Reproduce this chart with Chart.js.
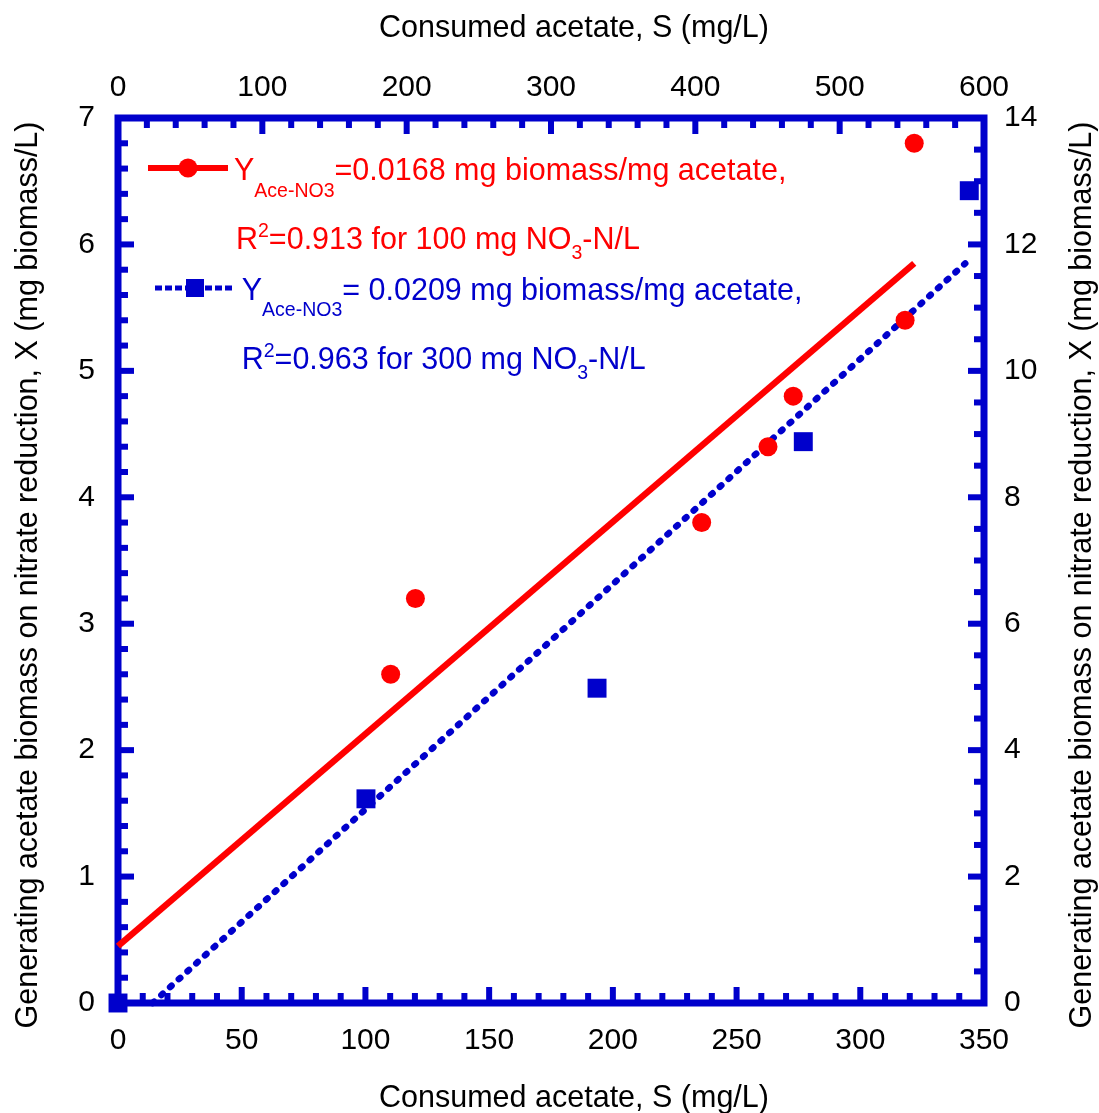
<!DOCTYPE html>
<html>
<head>
<meta charset="utf-8">
<script src="https://cdn.jsdelivr.net/npm/chart.js@4.4.0/dist/chart.umd.min.js"></script>
<style>
  html, body { margin: 0; padding: 0; background: #fff; }
  #wrap { width: 1099px; height: 1113px; }
</style>
</head>
<body>
<div id="wrap"><canvas id="myChart" width="1099" height="1113"></canvas></div>
<script>
// 100 mg NO3-N/L : bottom (acetate) / left (biomass) axes
const acetate100 = [110.2, 120.2, 235.9, 262.7, 272.9, 318.1, 321.8];
const biomass100 = [2.6, 3.2, 3.8, 4.4, 4.8, 5.4, 6.8];
// 300 mg NO3-N/L : top (acetate) / right (biomass) axes
const acetate300 = [0, 171.8, 331.9, 474.8, 589.8];
const biomass300 = [0, 3.23, 4.98, 8.88, 12.85];
// fitted lines, end points
const fit100X = [0, 321.8];
const fit100Y = [0.45, 5.85];
const fit300X = [24, 587];
const fit300Y = [0, 11.7];

// tick labels
const bottomTicks = [0, 50, 100, 150, 200, 250, 300, 350];
const topTicks = [0, 100, 200, 300, 400, 500, 600];
const leftTicks = [0, 1, 2, 3, 4, 5, 6, 7];
const rightTicks = [0, 2, 4, 6, 8, 10, 12, 14];

const RED = "#ff0000";
const BLUE = "#0000cc";
const FONT = "'Liberation Sans', Arial, sans-serif";

const pts = (xs, ys) => xs.map((x, i) => ({ x: x, y: ys[i] }));
const useTicks = (vals) => (scale) => { scale.ticks = vals.map(v => ({ value: v })); };

// frame + inward major/minor ticks
const framePlugin = {
  id: "frame",
  beforeDatasetsDraw(chart) {
    const { ctx, chartArea: a, scales } = chart;
    ctx.save();
    ctx.strokeStyle = BLUE;
    ctx.lineWidth = 7;
    ctx.strokeRect(a.left, a.top, a.right - a.left, a.bottom - a.top);
    ctx.fillStyle = BLUE;
    const tw = 6, maj = 16, min = 10;
    function marks(scale, minor, every, side) {
      const n = Math.round((scale.max - scale.min) / minor);
      for (let i = 0; i <= n; i++) {
        const p = scale.getPixelForValue(scale.min + i * minor);
        const len = i % every === 0 ? maj : min;
        if (side === "bottom") ctx.fillRect(p - tw / 2, a.bottom - len, tw, len);
        if (side === "top") ctx.fillRect(p - tw / 2, a.top, tw, len);
        if (side === "left") ctx.fillRect(a.left, p - tw / 2, len, tw);
        if (side === "right") ctx.fillRect(a.right - len, p - tw / 2, len, tw);
      }
    }
    marks(scales.x, 10, 5, "bottom");
    marks(scales.x2, 20, 5, "top");
    marks(scales.y, 0.2, 5, "left");
    marks(scales.y2, 0.5, 4, "right");
    ctx.restore();
  }
};

// draw a line of text made of runs (normal / sub / superscript)
function drawRuns(ctx, x, y, runs, color) {
  ctx.fillStyle = color;
  ctx.textAlign = "left";
  ctx.textBaseline = "alphabetic";
  runs.forEach(r => {
    ctx.font = r[1] + "px " + FONT;
    ctx.fillText(r[0], x, y + (r[2] || 0));
    x += ctx.measureText(r[0]).width;
  });
}

const textPlugin = {
  id: "texts",
  afterDraw(chart) {
    const ctx = chart.ctx;
    ctx.save();
    // axis titles
    ctx.fillStyle = "#000";
    ctx.font = "30.5px " + FONT;
    ctx.textAlign = "center";
    ctx.textBaseline = "alphabetic";
    ctx.fillText("Consumed acetate, S (mg/L)", 574, 37);
    ctx.fillText("Consumed acetate, S (mg/L)", 574, 1107);
    const yTitle = "Generating acetate biomass on nitrate reduction, X (mg biomass/L)";
    [[37, 575], [1091, 575]].forEach(p => {
      ctx.save();
      ctx.translate(p[0], p[1]);
      ctx.rotate(-Math.PI / 2);
      ctx.fillText(yTitle, 0, 0);
      ctx.restore();
    });

    // legend: red entry
    ctx.fillStyle = RED;
    ctx.fillRect(148, 165, 80, 6);
    ctx.beginPath();
    ctx.arc(188, 168, 9.5, 0, Math.PI * 2);
    ctx.fill();
    drawRuns(ctx, 234, 180, [["Y", 30.5], ["Ace-NO3", 19.5, 16.5], ["=0.0168 mg biomass/mg acetate,", 30.5]], RED);
    drawRuns(ctx, 236, 248.5, [["R", 30.5], ["2", 19.5, -12], ["=0.913 for 100 mg NO", 30.5], ["3", 19.5, 10], ["-N/L", 30.5]], RED);

    // legend: blue entry
    ctx.strokeStyle = BLUE;
    ctx.lineWidth = 5;
    ctx.setLineDash([7, 3]);
    ctx.beginPath();
    ctx.moveTo(155, 288);
    ctx.lineTo(233, 288);
    ctx.stroke();
    ctx.setLineDash([]);
    ctx.fillStyle = BLUE;
    ctx.fillRect(186, 279, 18, 18);
    drawRuns(ctx, 241.7, 299.5, [["Y", 30.5], ["Ace-NO3", 19.5, 16], ["= 0.0209 mg biomass/mg acetate,", 30.5]], BLUE);
    drawRuns(ctx, 241.7, 368.5, [["R", 30.5], ["2", 19.5, -12], ["=0.963 for 300 mg NO", 30.5], ["3", 19.5, 10], ["-N/L", 30.5]], BLUE);
    ctx.restore();
  }
};

const tickFont = { family: FONT, size: 30 };

new Chart(document.getElementById("myChart"), {
  type: "scatter",
  data: {
    datasets: [
      {
        label: "fit 100",
        data: pts(fit100X, fit100Y),
        showLine: true,
        borderColor: RED,
        borderWidth: 6.5,
        pointRadius: 0,
        xAxisID: "x", yAxisID: "y",
        order: 4, clip: false
      },
      {
        label: "fit 300",
        data: pts(fit300X, fit300Y),
        showLine: true,
        borderColor: BLUE,
        borderWidth: 6.5,
        borderDash: [2, 9.8],
        borderCapStyle: "round",
        pointRadius: 0,
        xAxisID: "x2", yAxisID: "y2",
        order: 3, clip: false
      },
      {
        label: "100 mg NO3-N/L",
        data: pts(acetate100, biomass100),
        pointStyle: "circle",
        pointRadius: 9.5,
        pointBorderWidth: 0,
        backgroundColor: RED,
        borderColor: RED,
        xAxisID: "x", yAxisID: "y",
        order: 2, clip: false
      },
      {
        label: "300 mg NO3-N/L",
        data: pts(acetate300, biomass300),
        pointStyle: "rect",
        pointRadius: 13.4,
        pointBorderWidth: 0,
        backgroundColor: BLUE,
        borderColor: BLUE,
        xAxisID: "x2", yAxisID: "y2",
        order: 1, clip: false
      }
    ]
  },
  options: {
    responsive: false,
    animation: false,
    layout: { padding: 0 },
    plugins: { legend: { display: false }, tooltip: { enabled: false } },
    scales: {
      x: {
        type: "linear", position: "bottom", min: 0, max: 350,
        grid: { display: false, drawTicks: false }, border: { display: false },
        ticks: { font: tickFont, color: "#000", padding: 20, maxRotation: 0, autoSkip: false },
        afterBuildTicks: useTicks(bottomTicks),
        afterFit: s => { s.height = 110; }
      },
      x2: {
        type: "linear", position: "top", min: 0, max: 600,
        grid: { display: false, drawTicks: false }, border: { display: false },
        ticks: { font: tickFont, color: "#000", padding: 12, maxRotation: 0, autoSkip: false },
        afterBuildTicks: useTicks(topTicks),
        afterFit: s => { s.height = 118; }
      },
      y: {
        type: "linear", position: "left", min: 0, max: 7,
        grid: { display: false, drawTicks: false }, border: { display: false },
        ticks: { font: tickFont, color: "#000", padding: 23, autoSkip: false },
        afterBuildTicks: useTicks(leftTicks),
        afterFit: s => { s.width = 118; }
      },
      y2: {
        type: "linear", position: "right", min: 0, max: 14,
        grid: { display: false, drawTicks: false }, border: { display: false },
        ticks: { font: tickFont, color: "#000", padding: 20, autoSkip: false },
        afterBuildTicks: useTicks(rightTicks),
        afterFit: s => { s.width = 115; }
      }
    }
  },
  plugins: [framePlugin, textPlugin]
});
</script>
</body>
</html>
